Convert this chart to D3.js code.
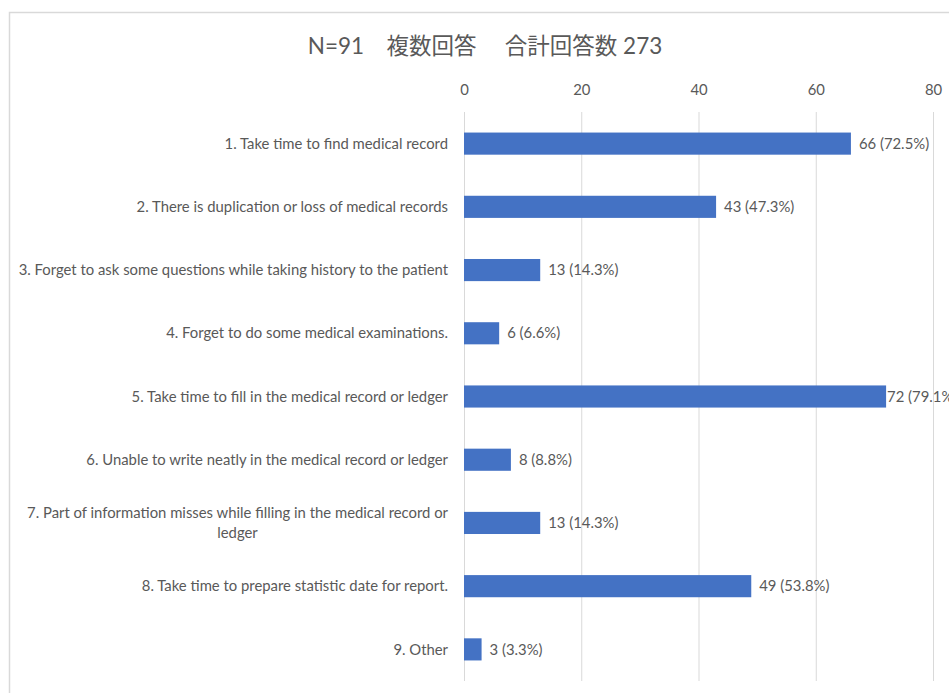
<!DOCTYPE html>
<html>
<head>
<meta charset="utf-8">
<script src="https://cdn.jsdelivr.net/npm/d3@7"></script>
<style>
  html, body { margin: 0; padding: 0; background: #fff; overflow: hidden; }
  svg { display: block; }
  text { font-family: Lato, "Noto Sans", sans-serif; fill: #595959; }
</style>
</head>
<body>
<svg id="chart" width="949" height="693"></svg>
<script>
// Survey: problems with paper medical records (N = 91, multiple answers)
const categories = [
  "1. Take time to find medical record",
  "2. There is duplication or loss of medical records",
  "3. Forget to ask some questions while taking history to the patient",
  "4. Forget to do some medical examinations.",
  "5. Take time to fill in the medical record or ledger",
  "6. Unable to write neatly in the medical record or ledger",
  "7. Part of information misses while filling in the medical record or|ledger",
  "8. Take time to prepare statistic date for report.",
  "9. Other"
];
const counts = [66, 43, 13, 6, 72, 8, 13, 49, 3];
const respondents = 91;
const tickValues = [0, 20, 40, 60, 80];
const titleText = "N=91\u3000複数回答\u3000 合計回答数 273";

const svg = d3.select("#chart");
const W = 949, H = 693;
const fontSize = "14.85px";

// chart frame
svg.append("rect")
  .attr("x", 9.5).attr("y", 12.5)
  .attr("width", W + 20).attr("height", H + 20)
  .attr("fill", "#fff").attr("stroke", "#d9d9d9").attr("stroke-width", 1.5);

const plot = { left: 464, right: 933, top: 112, bottom: 681 };

const x = d3.scaleLinear().domain([0, 80]).range([plot.left, plot.right]);
const y = d3.scaleBand().domain(d3.range(categories.length))
  .range([plot.top, plot.bottom]).paddingInner(0.65).paddingOuter(0.325);

// title
svg.append("text")
  .attr("x", 485).attr("y", 54)
  .attr("text-anchor", "middle")
  .style("font-family", "Lato, 'Noto Sans CJK JP', sans-serif")
  .style("font-size", "22.5px")
  .style("white-space", "pre")
  .text(titleText);

// vertical gridlines + top axis labels
const xAxis = d3.axisTop(x).tickValues(tickValues).tickSize(-(plot.bottom - plot.top)).tickPadding(0);
const gx = svg.append("g").attr("transform", `translate(0,${plot.top})`).call(xAxis);
gx.select(".domain").remove();
gx.selectAll(".tick line").attr("stroke", "#d9d9d9").attr("stroke-width", 1);
gx.selectAll(".tick text")
  .attr("y", -17)
  .style("font-size", fontSize)
  .style("font-family", "Lato, sans-serif")
  .attr("fill", "#595959");

// category labels (left axis, no line)
const yAxis = d3.axisLeft(y).tickSize(0).tickPadding(0).tickFormat(() => "");
const gy = svg.append("g").attr("transform", `translate(${plot.left},0)`).call(yAxis);
gy.select(".domain").remove();
gy.selectAll(".tick").each(function(i) {
  const lines = categories[i].split("|");
  const t = d3.select(this).select("text")
    .style("font-size", fontSize)
    .attr("fill", "#595959")
    .attr("dy", null)
    .text(null);
  if (lines.length === 1) {
    t.attr("x", -16).attr("text-anchor", "end").attr("dy", "0.35em").text(lines[0]);
  } else {
    // wrapped label: lines centred under each other, right edge at the axis gap
    const probe = t.append("tspan").text(lines[0]);
    const w = probe.node().getComputedTextLength();
    probe.remove();
    const cx = -16 - w / 2;
    t.attr("text-anchor", "middle");
    lines.forEach((ln, k) => {
      t.append("tspan")
        .attr("x", cx)
        .attr("y", (k - (lines.length - 1) / 2) * 20)
        .attr("dy", "0.35em")
        .text(ln);
    });
  }
});

// bars
svg.append("g").selectAll("rect")
  .data(counts)
  .join("rect")
  .attr("x", x(0))
  .attr("y", (d, i) => y(i))
  .attr("width", d => x(d) - x(0))
  .attr("height", y.bandwidth())
  .attr("fill", "#4472c4");

// value labels: count (share of respondents); a label that would run past
// the frame is pulled back against the end of its bar
svg.append("g").selectAll("text")
  .data(counts)
  .join("text")
  .attr("y", (d, i) => y(i) + y.bandwidth() / 2)
  .attr("dy", "0.35em")
  .style("font-size", fontSize)
  .text(d => `${d} (${(d / respondents * 100).toFixed(1)}%)`)
  .attr("x", function(d) {
    const w = this.getComputedTextLength();
    return Math.max(x(d) + 1, Math.min(x(d) + 8, 957 - w));
  });
</script>
</body>
</html>
